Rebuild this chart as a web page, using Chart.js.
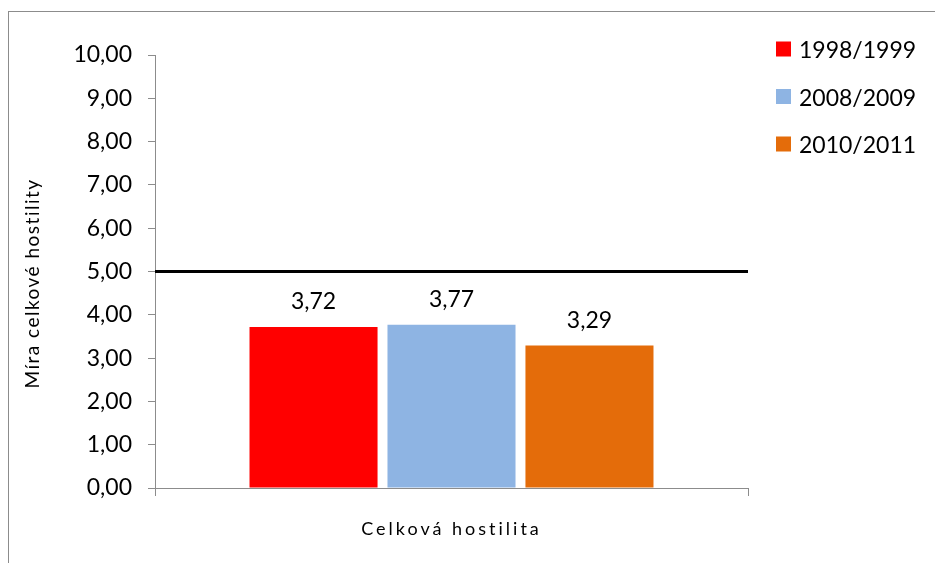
<!DOCTYPE html>
<html>
<head>
<meta charset="utf-8">
<script src="https://cdn.jsdelivr.net/npm/chart.js@4/dist/chart.umd.min.js"></script>
<style>
  html, body { margin: 0; padding: 0; background: #fff; }
  #wrap { position: relative; width: 935px; height: 563px; overflow: hidden; }
  #frame { position: absolute; left: 8px; top: 11px; width: 1000px; height: 700px;
           border-left: 1px solid #8c8c8c; border-top: 1px solid #8c8c8c; }
  #chart { position: absolute; left: 0; top: 0; }
</style>
</head>
<body>
<div id="wrap">
  <div id="frame"></div>
  <canvas id="chart" width="935" height="563"></canvas>
</div>
<script>
// data
const categories = ["Celková hostilita"];
const seriesNames = ["1998/1999", "2008/2009", "2010/2011"];
const seriesValues = [[3.72], [3.77], [3.29]];
const seriesColors = ["#ff0000", "#8eb4e3", "#e46c0a"];
const yTicks = [0, 1, 2, 3, 4, 5, 6, 7, 8, 9, 10];
const referenceLine = 5;

const FONT = "Lato";
const fmt = v => v.toFixed(2).replace(".", ",");

// spaced text for the axis title + category label
function withSpacing(fn, spacing, dy) {
  return function (...args) {
    const ctx = this.ctx;
    ctx.save();
    ctx.letterSpacing = spacing;
    ctx.translate(0, dy || 0);
    fn.apply(this, args);
    ctx.restore();
  };
}

const spacingPlugin = {
  id: "spacing",
  beforeDraw(chart) {
    const x = chart.scales.x, y = chart.scales.y;
    if (!x._patched) { x.drawLabels = withSpacing(x.drawLabels, "3px", 0); x._patched = true; }
    if (!y._patched) { y.drawTitle = withSpacing(y.drawTitle, "1.5px", 12); y._patched = true; }
  }
};

// black line at 5,00
const refLinePlugin = {
  id: "refLine",
  afterDatasetsDraw(chart) {
    const { ctx, chartArea } = chart;
    const yy = chart.scales.y.getPixelForValue(referenceLine);
    ctx.save();
    ctx.strokeStyle = "#000";
    ctx.lineWidth = 3;
    ctx.beginPath();
    ctx.moveTo(chartArea.left, yy);
    ctx.lineTo(chartArea.right, yy);
    ctx.stroke();
    ctx.restore();
  }
};

// value labels above bars
const valueLabels = {
  id: "valueLabels",
  afterDatasetsDraw(chart) {
    const ctx = chart.ctx;
    ctx.save();
    ctx.font = "23px " + FONT;
    ctx.fillStyle = "#000";
    ctx.textAlign = "center";
    ctx.textBaseline = "middle";
    chart.data.datasets.forEach((ds, i) => {
      chart.getDatasetMeta(i).data.forEach((bar, j) => {
        ctx.fillText(fmt(ds.data[j]), bar.x, bar.y - 25);
      });
    });
    ctx.restore();
  }
};

// legend on the right
const sideLegend = {
  id: "sideLegend",
  afterDraw(chart) {
    const ctx = chart.ctx;
    const x0 = chart.chartArea.right + 28;
    ctx.save();
    ctx.font = "23px " + FONT;
    ctx.textBaseline = "middle";
    ctx.textAlign = "left";
    chart.data.datasets.forEach((ds, i) => {
      const cy = 49 + i * 47.5;
      ctx.fillStyle = ds.backgroundColor;
      ctx.fillRect(x0, cy - 7.5, 15, 15);
      ctx.fillStyle = "#000";
      ctx.fillText(ds.label, x0 + 23, cy + 2);
    });
    ctx.restore();
  }
};

new Chart(document.getElementById("chart"), {
  type: "bar",
  data: {
    labels: categories,
    datasets: seriesNames.map((name, i) => ({
      label: name,
      data: seriesValues[i],
      backgroundColor: seriesColors[i],
      categoryPercentage: 0.698,
      barPercentage: 0.928
    }))
  },
  options: {
    responsive: false,
    animation: false,
    layout: { padding: { left: 0, top: 55, right: 187, bottom: 0 } },
    plugins: {
      legend: { display: false },
      tooltip: { enabled: false }
    },
    scales: {
      x: {
        grid: { drawOnChartArea: false, drawTicks: true, tickLength: 8, color: "#8c8c8c", offset: true },
        border: { display: true, color: "#8c8c8c" },
        ticks: { color: "#000", font: { family: FONT, size: 18 }, padding: 22 },
        afterFit(s) { s.height = 75; }
      },
      y: {
        min: 0,
        max: 10,
        afterBuildTicks(s) { s.ticks = yTicks.map(v => ({ value: v })); },
        grid: { drawOnChartArea: false, drawTicks: true, tickLength: 7, color: "#8c8c8c" },
        border: { display: true, color: "#8c8c8c" },
        ticks: { color: "#000", font: { family: FONT, size: 23 }, padding: 16, callback: v => fmt(v) },
        title: {
          display: true,
          text: "Míra celkové hostility",
          color: "#000",
          font: { family: FONT, size: 19 },
          padding: { top: 21, bottom: 0 }
        },
        afterFit(s) { s.width = 155; }
      }
    }
  },
  plugins: [spacingPlugin, refLinePlugin, valueLabels, sideLegend]
});
</script>
</body>
</html>
